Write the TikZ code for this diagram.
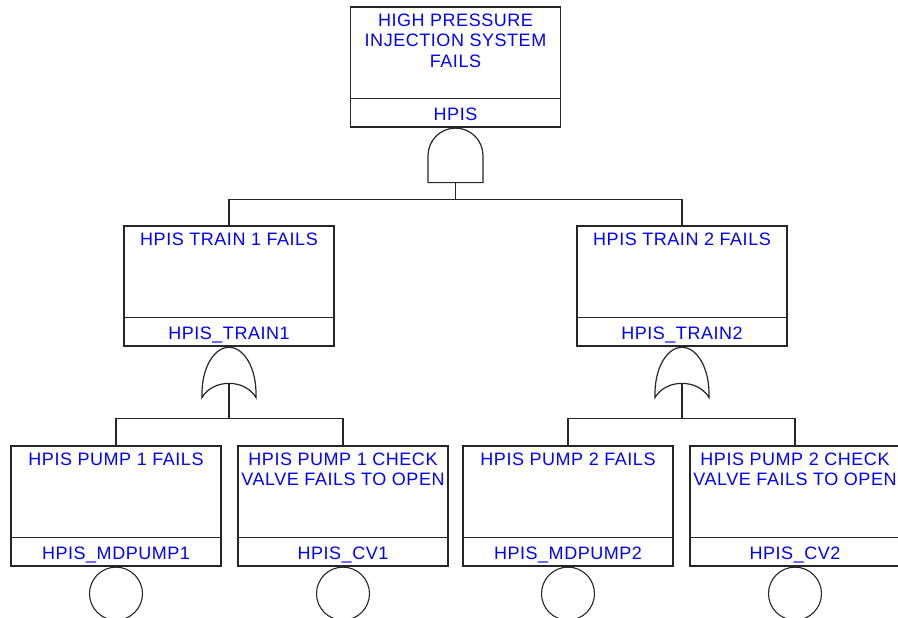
\documentclass[tikz,border=0pt]{standalone}
\usepackage{fontspec}
\setmainfont{Liberation Sans}[LetterSpace=3]
\newcommand\FTbox[5]{%
  \node[box] (#1) at (#2,#3) {};
  \draw[ln] ([yshift=29pt]#1.south west) -- ([yshift=29pt]#1.south east);
  \node[ttl] (#1t) at ([yshift=-7pt]#1.north) {#4};
  \node[lbl] (#1l) at ([yshift=13.5pt]#1.south) {#5};
}
\begin{document}
\begin{tikzpicture}[x=1pt,y=-1pt,
  box/.style={draw=black!85, line width=1.2pt, minimum width=210pt, minimum height=120pt, inner sep=0pt},
  ttl/.style={text=blue, font=\fontsize{18}{20.5}\selectfont, align=center, anchor=north, inner sep=0pt},
  lbl/.style={text=blue, font=\fontsize{18}{20.5}\selectfont, inner sep=0pt, text height=12.9pt, text depth=0pt},
  ln/.style={draw=black!85, line width=1.2pt},
  basic/.style={draw=black!85, line width=1.1pt, circle, minimum size=53pt, inner sep=0pt, anchor=north},
  ]
\useasboundingbox (0,0) rectangle (898,618);
% events
\FTbox{top}{455.5}{67}{HIGH PRESSURE\\INJECTION SYSTEM\\FAILS}{HPIS}
\FTbox{tr1}{229}{286}{HPIS TRAIN 1 FAILS}{HPIS\_TRAIN1}
\FTbox{tr2}{682}{286}{HPIS TRAIN 2 FAILS}{HPIS\_TRAIN2}
\FTbox{b1}{116}{506}{HPIS PUMP 1 FAILS}{HPIS\_MDPUMP1}
\FTbox{b2}{343}{506}{HPIS PUMP 1 CHECK\\VALVE FAILS TO OPEN}{HPIS\_CV1}
\FTbox{b3}{568}{506}{HPIS PUMP 2 FAILS}{HPIS\_MDPUMP2}
\FTbox{b4}{795}{506}{HPIS PUMP 2 CHECK\\VALVE FAILS TO OPEN}{HPIS\_CV2}
% AND gate
\begin{scope}[shift={(top.south)}]
  \draw[ln] (-27.5,55) -- (-27.5,28) arc[start angle=180, end angle=0, radius=27.5pt] -- (27.5,55) -- cycle;
  \coordinate (g0) at (0,55);
\end{scope}
% OR gates
\foreach \t in {tr1,tr2}{
  \begin{scope}[shift={(\t.south)}]
    \draw[ln] (-27,51) .. controls (-28,20) and (-14,0.6) .. (0,0.6)
                       .. controls (14,0.6) and (28,20) .. (27,51)
                       .. controls (16,32) and (-16,32) .. cycle;
    \coordinate (g\t) at (0,37.5);
  \end{scope}
}
% connectors
\path (tr1.north) ++(0,-26) coordinate (bus0);
\draw[ln] (tr1.north) -- (bus0) -| (tr2.north);
\draw[ln] (g0) -- (g0 |- bus0);
\path (b1.north) ++(0,-27) coordinate (bus1);
\draw[ln] (b1.north) -- (bus1) -| (b2.north);
\draw[ln] (gtr1) -- (gtr1 |- bus1);
\path (b3.north) ++(0,-27) coordinate (bus2);
\draw[ln] (b3.north) -- (bus2) -| (b4.north);
\draw[ln] (gtr2) -- (gtr2 |- bus2);
% basic events
\foreach \b in {b1,b2,b3,b4}{
  \node[basic] (c\b) at (\b.south) {};
}
\end{tikzpicture}
\end{document}
